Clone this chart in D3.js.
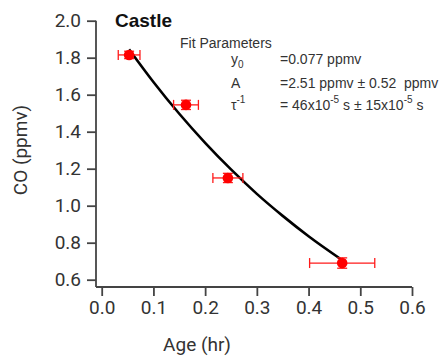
<!DOCTYPE html>
<html>
<head>
<meta charset="utf-8">
<script src="https://cdn.jsdelivr.net/npm/d3@7"></script>
<style>
  body { margin: 0; background: #fff; }
  .tick text { font-family: Roboto, sans-serif; font-size: 19px; fill: #333; }
  .params { font-family: "Liberation Sans", Arial, sans-serif; font-size: 14px; fill: #333; }
</style>
</head>
<body>
<div id="chart"></div>
<script>
// measured points (Age in hr, CO in ppmv)
var ages = [0.053, 0.163, 0.244, 0.465];
var co = [1.815, 1.545, 1.15, 0.69];
var ageErr = [0.021, 0.024, 0.029, 0.063];
var coErr = [0.02, 0.025, 0.025, 0.028];

// fitted curve
var fitAge = [0.053, 0.1, 0.15, 0.2, 0.25, 0.3, 0.35, 0.4, 0.464];
var fitCO = [1.845, 1.669, 1.497, 1.34, 1.196, 1.064, 0.945, 0.835, 0.708];

var xTicks = [0, 0.1, 0.2, 0.3, 0.4, 0.5, 0.6];
var yTicks = [0.6, 0.8, 1.0, 1.2, 1.4, 1.6, 1.8, 2.0];

const width = 446, height = 358;
const axisX = 96, axisY = 287;

var svg = d3.select("#chart")
    .append("svg")
    .attr("width", width)
    .attr("height", height);

var x = d3.scaleLinear().domain([0, 0.6]).range([101.7, 412]);
var y = d3.scaleLinear().domain([0.56, 2.0]).range([287.1, 20.7]);

// Y axis
var yAxis = svg.append("g")
    .attr("transform", `translate(${axisX},0)`)
    .call(d3.axisLeft(y).tickValues(yTicks).tickFormat(d3.format(".1f")).tickSize(9).tickPadding(6).tickSizeOuter(0));
yAxis.select(".domain").attr("d", `M0,${y(2.0)}V${axisY}`);

// X axis
var xAxis = svg.append("g")
    .attr("transform", `translate(0,${axisY})`)
    .call(d3.axisBottom(x).tickValues(xTicks).tickFormat(d3.format(".1f")).tickSize(9).tickPadding(5).tickSizeOuter(0));
xAxis.select(".domain").attr("d", `M${axisX},0H${x(0.6)}`);

svg.selectAll(".domain, .tick line")
    .attr("stroke", "#444")
    .attr("stroke-width", 1.8);

// axis labels
svg.append("text")
    .attr("x", 197)
    .attr("y", 351)
    .attr("text-anchor", "middle")
    .style("font-family", "Roboto, sans-serif")
    .style("font-size", "19px")
    .style("fill", "#333")
    .text("Age (hr)");

svg.append("text")
    .attr("transform", "translate(27,150) rotate(-90)")
    .attr("text-anchor", "middle")
    .style("font-family", "Roboto, sans-serif")
    .style("font-size", "19px")
    .style("fill", "#333")
    .text("CO (ppmv)");

// title
svg.append("text")
    .attr("x", 115)
    .attr("y", 27)
    .style("font-family", "'Liberation Sans', Arial, sans-serif")
    .style("font-size", "19px")
    .style("font-weight", "bold")
    .style("fill", "#111")
    .text("Castle");

// fit curve
var fitData = fitAge.map((a, i) => ({ a: a, c: fitCO[i] }));
svg.append("path")
    .datum(fitData)
    .attr("fill", "none")
    .attr("stroke", "#000")
    .attr("stroke-width", 2.6)
    .attr("d", d3.line().x(d => x(d.a)).y(d => y(d.c)).curve(d3.curveMonotoneX));

// error bars + points
var pts = ages.map((a, i) => ({ a: a, c: co[i], ea: ageErr[i], ec: coErr[i] }));
var g = svg.append("g").attr("stroke", "#ff1a1a").attr("stroke-width", 1.3);
pts.forEach(function (d) {
    g.append("line").attr("x1", x(d.a - d.ea)).attr("x2", x(d.a + d.ea)).attr("y1", y(d.c)).attr("y2", y(d.c));
    g.append("line").attr("x1", x(d.a - d.ea)).attr("x2", x(d.a - d.ea)).attr("y1", y(d.c) - 5).attr("y2", y(d.c) + 5);
    g.append("line").attr("x1", x(d.a + d.ea)).attr("x2", x(d.a + d.ea)).attr("y1", y(d.c) - 5).attr("y2", y(d.c) + 5);
    g.append("line").attr("x1", x(d.a)).attr("x2", x(d.a)).attr("y1", y(d.c + d.ec)).attr("y2", y(d.c - d.ec));
    g.append("line").attr("x1", x(d.a) - 5).attr("x2", x(d.a) + 5).attr("y1", y(d.c + d.ec)).attr("y2", y(d.c + d.ec));
    g.append("line").attr("x1", x(d.a) - 5).attr("x2", x(d.a) + 5).attr("y1", y(d.c - d.ec)).attr("y2", y(d.c - d.ec));
});
svg.selectAll("circle.pt")
    .data(pts)
    .enter()
    .append("circle")
    .attr("class", "pt")
    .attr("cx", d => x(d.a))
    .attr("cy", d => y(d.c))
    .attr("r", 5.3)
    .attr("fill", "#ff0000");

// fit parameters block
var p = svg.append("g").attr("class", "params");
p.append("text").attr("x", 180).attr("y", 48).text("Fit Parameters");

var t = p.append("text").attr("x", 231).attr("y", 64);
t.append("tspan").text("y");
t.append("tspan").attr("dy", 4).style("font-size", "10px").text("0");
p.append("text").attr("x", 280).attr("y", 64).text("=0.077 ppmv");

p.append("text").attr("x", 231).attr("y", 88).text("A");
p.append("text").attr("x", 280).attr("y", 88).text("=2.51 ppmv \u00b1 0.52  ppmv").style("white-space", "pre");

t = p.append("text").attr("x", 231).attr("y", 110);
t.append("tspan").text("\u03c4");
t.append("tspan").attr("dy", -7).style("font-size", "10px").text("-1");

t = p.append("text").attr("x", 280).attr("y", 110).style("white-space", "pre");
t.append("tspan").text("= 46x10");
t.append("tspan").attr("dy", -7).style("font-size", "10px").text("-5");
t.append("tspan").attr("dy", 7).text(" s \u00b1 15x10");
t.append("tspan").attr("dy", -7).style("font-size", "10px").text("-5");
t.append("tspan").attr("dy", 7).text(" s");
</script>
</body>
</html>
